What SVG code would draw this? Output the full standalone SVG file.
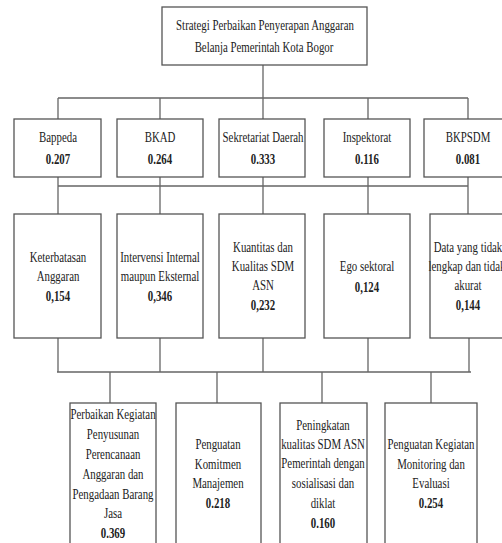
<svg xmlns="http://www.w3.org/2000/svg" width="502" height="543" viewBox="0 0 502 543">
<style>
.box{fill:#fff;stroke:#555;stroke-width:1.3}
.con{fill:none;stroke:#666;stroke-width:1.3}
text{font-family:"Liberation Serif","Times New Roman",serif;font-size:15.5px;fill:#222;text-anchor:middle}
.b{font-weight:bold}
</style>
<rect width="502" height="543" fill="#fff"/>
<g id="connectors" class="con">
<path d="M263 65V98M58 98H468M58 98V119M160 98V119M263 98V119M368 98V119M468 98V119"/>
<path d="M58 177V186M58 186H468M160 177V186M263 177V186M368 177V186M468 177V186M58 186V214M160 186V214M263 186V214M368 186V214M468 186V214"/>
<path d="M58 338V372M160 338V372M263 338V372M368 338V372M469 338V372M57 372H471M110 372V403M217 372V403M322 372V403M431 372V403"/>
</g>
<g id="root"><rect class="box" x="162" y="7" width="205" height="58"/>
<text transform="translate(265,30) scale(0.7,1)">Strategi Perbaikan Penyerapan Anggaran</text>
<text transform="translate(264,52) scale(0.7,1)">Belanja Pemerintah Kota Bogor</text></g>
<g id="bappeda"><rect class="box" x="14" y="119" width="87" height="58"/>
<text transform="translate(58,142) scale(0.7,1)">Bappeda</text><text class="b" transform="translate(58,164) scale(0.7,1)">0.207</text></g>
<g id="bkad"><rect class="box" x="117" y="119" width="86" height="58"/>
<text transform="translate(160,142) scale(0.7,1)">BKAD</text><text class="b" transform="translate(160,164) scale(0.7,1)">0.264</text></g>
<g id="sekda"><rect class="box" x="219" y="119" width="86" height="58"/>
<text transform="translate(263,142) scale(0.7,1)">Sekretariat Daerah</text><text class="b" transform="translate(263,164) scale(0.7,1)">0.333</text></g>
<g id="inspektorat"><rect class="box" x="324" y="119" width="86" height="58"/>
<text transform="translate(367,142) scale(0.7,1)">Inspektorat</text><text class="b" transform="translate(367,164) scale(0.7,1)">0.116</text></g>
<g id="bkpsdm"><rect class="box" x="424" y="119" width="90" height="58"/>
<text transform="translate(468,142) scale(0.7,1)">BKPSDM</text><text class="b" transform="translate(468,164) scale(0.7,1)">0.081</text></g>
<g id="keterbatasan"><rect class="box" x="14" y="214" width="87" height="124"/>
<text transform="translate(58,262) scale(0.7,1)">Keterbatasan</text><text transform="translate(58,281) scale(0.7,1)">Anggaran</text><text class="b" transform="translate(58,301) scale(0.7,1)">0,154</text></g>
<g id="intervensi"><rect class="box" x="117" y="214" width="86" height="124"/>
<text transform="translate(160,262) scale(0.7,1)">Intervensi Internal</text><text transform="translate(160,281) scale(0.7,1)">maupun Eksternal</text><text class="b" transform="translate(160,301) scale(0.7,1)">0,346</text></g>
<g id="kuantitas"><rect class="box" x="219" y="214" width="86" height="124"/>
<text transform="translate(263,252) scale(0.7,1)">Kuantitas dan</text><text transform="translate(263,271) scale(0.7,1)">Kualitas SDM</text><text transform="translate(263,290) scale(0.7,1)">ASN</text><text class="b" transform="translate(263,310) scale(0.7,1)">0,232</text></g>
<g id="ego"><rect class="box" x="324" y="214" width="86" height="124"/>
<text transform="translate(367,271) scale(0.7,1)">Ego sektoral</text><text class="b" transform="translate(367,292) scale(0.7,1)">0,124</text></g>
<g id="data"><rect class="box" x="430" y="214" width="90" height="124"/>
<text transform="translate(468,252) scale(0.7,1)">Data yang tidak</text><text transform="translate(467,271) scale(0.7,1)">lengkap dan tidak</text><text transform="translate(468,290) scale(0.7,1)">akurat</text><text class="b" transform="translate(468,310) scale(0.7,1)">0,144</text></g>
<g id="perbaikan"><rect class="box" x="70" y="403" width="86" height="150"/>
<text transform="translate(113,419) scale(0.7,1)">Perbaikan Kegiatan</text><text transform="translate(113,439) scale(0.7,1)">Penyusunan</text><text transform="translate(113,459) scale(0.7,1)">Perencanaan</text><text transform="translate(113,479) scale(0.7,1)">Anggaran dan</text><text transform="translate(113,499) scale(0.7,1)">Pengadaan Barang</text><text transform="translate(113,518) scale(0.7,1)">Jasa</text><text class="b" transform="translate(113,538) scale(0.7,1)">0.369</text></g>
<g id="komitmen"><rect class="box" x="176" y="403" width="85" height="150"/>
<text transform="translate(218,449) scale(0.7,1)">Penguatan</text><text transform="translate(218,469) scale(0.7,1)">Komitmen</text><text transform="translate(218,488) scale(0.7,1)">Manajemen</text><text class="b" transform="translate(218,508) scale(0.7,1)">0.218</text></g>
<g id="peningkatan"><rect class="box" x="280" y="403" width="87" height="150"/>
<text transform="translate(323,430) scale(0.7,1)">Peningkatan</text><text transform="translate(323,449) scale(0.7,1)">kualitas SDM ASN</text><text transform="translate(323,468) scale(0.7,1)">Pemerintah dengan</text><text transform="translate(323,488) scale(0.7,1)">sosialisasi dan</text><text transform="translate(323,508) scale(0.7,1)">diklat</text><text class="b" transform="translate(323,528) scale(0.7,1)">0.160</text></g>
<g id="monitoring"><rect class="box" x="385" y="403" width="92" height="150"/>
<text transform="translate(431,449) scale(0.7,1)">Penguatan Kegiatan</text><text transform="translate(431,469) scale(0.7,1)">Monitoring dan</text><text transform="translate(431,488) scale(0.7,1)">Evaluasi</text><text class="b" transform="translate(431,508) scale(0.7,1)">0.254</text></g>
</svg>
